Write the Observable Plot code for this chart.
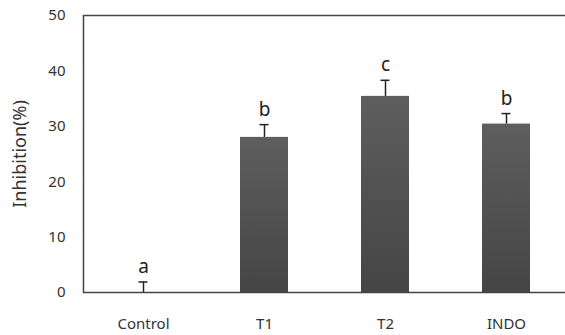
<!DOCTYPE html>
<html>
<head>
<meta charset="utf-8">
<script src="https://cdn.jsdelivr.net/npm/d3@7"></script>
<script src="https://cdn.jsdelivr.net/npm/@observablehq/plot@0.6"></script>
<style>
  html, body { margin: 0; padding: 0; background: #fff; }
  #chart svg { display: block; }
</style>
</head>
<body>
<div id="chart"></div>
<script>
const categories = ["Control", "T1", "T2", "INDO"];
const inhibition = [0, 28.0, 35.4, 30.4];
const errors = [1.9, 2.3, 2.9, 1.9];
const letters = ["a", "b", "c", "b"];
const yTicks = [0, 10, 20, 30, 40, 50];

const data = categories.map((c, i) => ({
  group: c, value: inhibition[i], err: errors[i], top: inhibition[i] + errors[i], letter: letters[i]
}));

const font = "'Noto Sans', sans-serif";

const chart = Plot.plot({
  width: 565,
  height: 335,
  marginTop: 15,
  marginBottom: 43,
  marginLeft: 83,
  marginRight: -2,
  style: { fontFamily: font, background: "#fff", color: "#333", overflow: "hidden" },
  x: { domain: categories, paddingInner: 0.6, paddingOuter: 0.3 },
  y: { domain: [0, 50] },
  marks: [
    Plot.barY(data, { x: "group", y: "value", fill: "url(#barGrad)" }),
    Plot.ruleX(data, { x: "group", y1: "value", y2: "top", stroke: "#222", strokeWidth: 1.5 }),
    Plot.tickY(data, { x: "group", y: "top", stroke: "#222", strokeWidth: 1.5, insetLeft: 19.5, insetRight: 19.5 }),
    Plot.text(data, { x: "group", y: "top", text: "letter", dy: -15, fontSize: 19, fill: "#222", fontFamily: font }),
    Plot.frame({ stroke: "#444", strokeWidth: 1.5 }),
    Plot.axisY({ ticks: yTicks, tickSize: 0, tickPadding: 18, fontSize: 15, label: "Inhibition(%)", labelAnchor: "center", labelArrow: "none", labelOffset: 70 }),
    Plot.axisX({ tickSize: 0, tickPadding: 26, fontSize: 15, label: null })
  ]
});

const svg = d3.select(chart);
const defs = svg.insert("defs", ":first-child");
const grad = defs.append("linearGradient").attr("id", "barGrad").attr("x1", 0).attr("y1", 0).attr("x2", 0).attr("y2", 1);
grad.append("stop").attr("offset", "0%").attr("stop-color", "#5e5e5e");
grad.append("stop").attr("offset", "100%").attr("stop-color", "#454545");
svg.selectAll("g[aria-label='y-axis label'] text").style("font-size", "18px").attr("fill", "#333");

document.getElementById("chart").appendChild(chart);
</script>
</body>
</html>
